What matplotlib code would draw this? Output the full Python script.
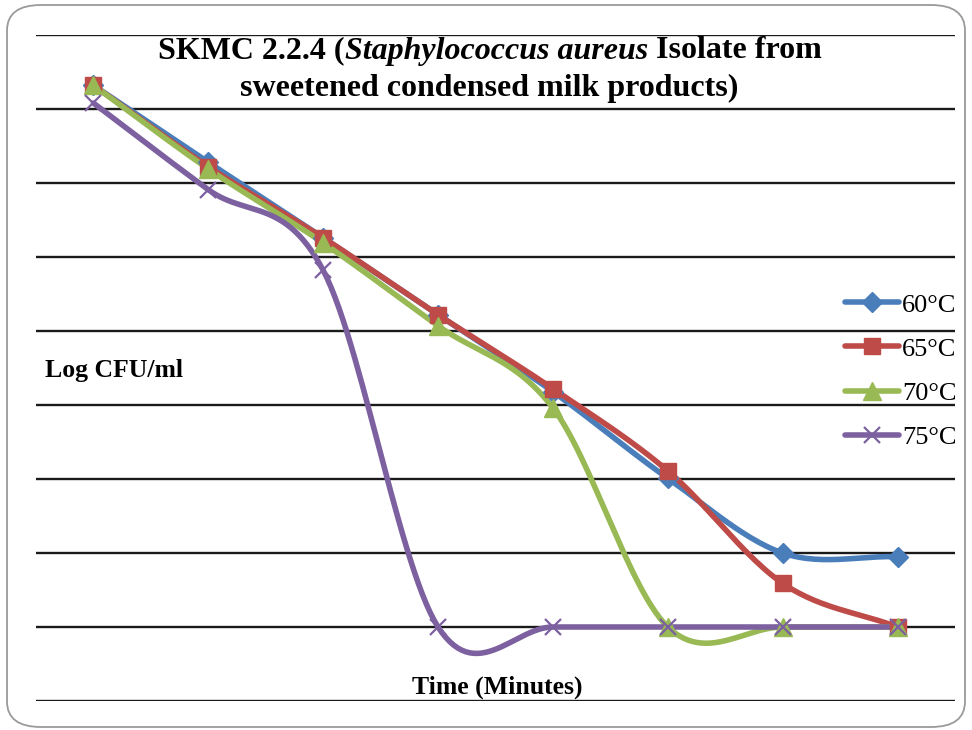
import numpy as np
import matplotlib.pyplot as plt
from matplotlib.patches import FancyBboxPatch

# values (Log CFU/ml at each sampling time)
times = [0, 1, 2, 3, 4, 5, 6, 7]
t60 = [8.32, 7.28, 6.26, 5.22, 4.18, 3.01, 2.00, 1.95]
t65 = [8.32, 7.22, 6.26, 5.22, 4.22, 3.11, 1.59, 1.00]
t70 = [8.32, 7.19, 6.19, 5.07, 3.96, 1.00, 1.00, 1.00]
t75 = [8.08, 6.91, 5.82, 1.00, 1.00, 1.00, 1.00, 1.00]
labels = ["60°C", "65°C", "70°C", "75°C"]

serif = "Liberation Serif"


def smooth(x, y, n=30):
    # Catmull-Rom curve, close to Excel's "smoothed line"
    x = np.asarray(x, float)
    y = np.asarray(y, float)
    px = np.concatenate([[2 * x[0] - x[1]], x, [2 * x[-1] - x[-2]]])
    py = np.concatenate([[2 * y[0] - y[1]], y, [2 * y[-1] - y[-2]]])
    xs, ys = [], []
    t = np.linspace(0, 1, n)
    for i in range(1, len(px) - 2):
        for p, out in ((px, xs), (py, ys)):
            p0, p1, p2, p3 = p[i - 1], p[i], p[i + 1], p[i + 2]
            c1 = p1 + (p2 - p0) / 6
            c2 = p2 - (p3 - p1) / 6
            out.extend((1 - t) ** 3 * p1 + 3 * (1 - t) ** 2 * t * c1
                       + 3 * (1 - t) * t ** 2 * c2 + t ** 3 * p2)
    return xs, ys


fig = plt.figure(figsize=(9.72, 7.30), dpi=100)
W, H = 972, 730

border = FancyBboxPatch((7 / W, 3 / H), 958 / W, 722 / H,
                        boxstyle="round,pad=0,rounding_size=0.035",
                        transform=fig.transFigure, facecolor="none",
                        edgecolor="#9a9a9a", linewidth=1.3)
fig.patches.append(border)

ax = fig.add_axes([36 / W, 29 / H, 919 / W, 666 / H])
ax.set_xlim(-0.5, 7.5)
ax.set_ylim(0, 9)
for v in range(10):
    ax.axhline(v, color="#1a1a1a", linewidth=1.7, zorder=1)
for s in ax.spines.values():
    s.set_visible(False)
ax.set_xticks([])
ax.set_yticks([])
ax.patch.set_visible(False)

series = [
    (t60, "#4A7EBB", "D", 10, 1),
    (t65, "#BE4B48", "s", 12, 1),
    (t70, "#98B954", "^", 13, 1),
    (t75, "#7D60A0", "x", 12, 1.6),
]
handles = []
for (vals, col, mk, ms, mew), lab in zip(series, labels):
    sx, sy = smooth(times, vals)
    ax.plot(sx, sy, color=col, linewidth=4, solid_capstyle="round", zorder=3)
    ax.plot(times, vals, linestyle="none", marker=mk, markersize=ms,
            color=col, markeredgewidth=mew, zorder=4)
    h, = ax.plot([], [], color=col, linewidth=4, marker=mk, markersize=ms,
                 markeredgewidth=mew, solid_capstyle="round")
    handles.append(h)

leg = fig.legend(handles, labels, loc="upper left",
                 bbox_to_anchor=(832 / W, 1 - 280 / H), frameon=False,
                 prop={"family": serif, "size": 19}, handlelength=2.05,
                 handletextpad=0.1, labelspacing=0.78, borderpad=0)

# title with italic species name
fig.canvas.draw()
r = fig.canvas.get_renderer()
size = 23
parts = [("SKMC 2.2.4 (", "normal"), ("Staphylococcus aureus", "italic"),
         (" Isolate from", "normal")]
texts = [fig.text(0, 1 - 51 / H, s, fontsize=size, family=serif,
                  weight="bold", style=st, va="center") for s, st in parts]
widths = [t.get_window_extent(r).width for t in texts]
x0 = 490 - sum(widths) / 2
for t, w in zip(texts, widths):
    t.set_x(x0 / W)
    x0 += w
fig.text(489 / W, 1 - 88 / H, "sweetened condensed milk products)",
         fontsize=size, family=serif, weight="bold", ha="center", va="center")

fig.text(45 / W, 1 - 371 / H, "Log CFU/ml", fontsize=18.5, family=serif,
         weight="bold", ha="left", va="center")
fig.text(497 / W, 1 - 687 / H, "Time (Minutes)", fontsize=18.5, family=serif,
         weight="bold", ha="center", va="center")

fig.savefig("out.png", dpi=100)
